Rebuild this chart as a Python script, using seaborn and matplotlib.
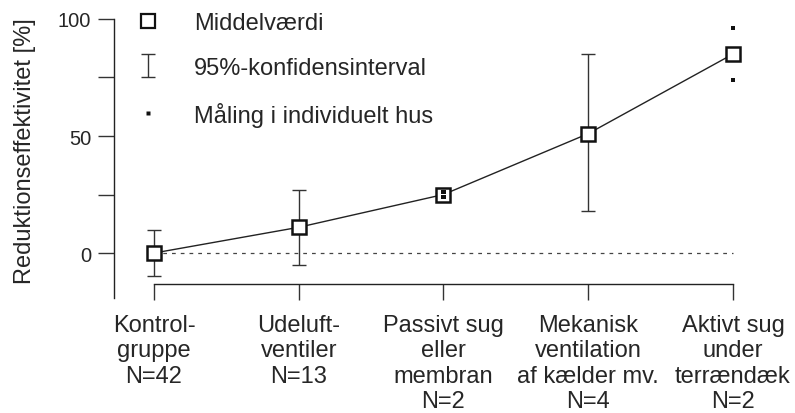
import numpy as np
import pandas as pd
import seaborn as sns
import matplotlib.pyplot as plt
from matplotlib.lines import Line2D
from matplotlib.legend_handler import HandlerErrorbar

# data
groups = ["Kontrol-\ngruppe\nN=42", "Udeluft-\nventiler\nN=13",
          "Passivt sug\neller\nmembran\nN=2", "Mekanisk\nventilation\naf kælder mv.\nN=4",
          "Aktivt sug\nunder\nterrændæk\nN=2"]
means = [0, 11, 25, 51, 85]
ci_groups = [0, 1, 3]
ci_low = [-10, -5, 18]
ci_high = [10, 27, 85]
house_groups = [2, 2, 4, 4]
house_values = [24, 26, 96, 74]
yticks_major = [0, 50, 100]
yticks_minor = [25, 75]

sns.set_style("white")
plt.rcParams['font.family'] = ['Liberation Sans', 'DejaVu Sans']
plt.rcParams['font.size'] = 17

fig = plt.figure(figsize=(7.95, 4.14), dpi=100)
ax = fig.add_axes([0.1434, 0.2778, 0.8126, 0.674])

pos = np.arange(len(groups))
df = pd.DataFrame({"pos": pos, "mean": means})
dfh = pd.DataFrame({"pos": house_groups, "value": house_values})

# reference line at 0
ax.hlines(0, 0, len(groups) - 1, colors="#444444", linestyles=(0, (3, 4)), lw=0.9, zorder=1)

ci_mid = [means[i] for i in ci_groups]
err = [np.array(ci_mid) - np.array(ci_low), np.array(ci_high) - np.array(ci_mid)]
eb = ax.errorbar(ci_groups, ci_mid, yerr=err, fmt='none', ecolor="#333333",
                 elinewidth=1.0, capsize=5, capthick=1.0, zorder=2,
                 label="95%-konfidensinterval")

sns.lineplot(data=df, x="pos", y="mean", ax=ax, color="#222222", lw=1.0,
             marker="s", markersize=9.5, markerfacecolor="white",
             markeredgecolor="#111111", markeredgewidth=1.8, zorder=3)

sns.scatterplot(data=dfh, x="pos", y="value", ax=ax, marker="s", s=9,
                color="#111111", edgecolor="none", zorder=4)

ax.set_xlim(-0.276, 4.187)
ax.set_ylim(-19.2, 100)
ax.set_xticks(pos)
ax.set_xticklabels(groups, linespacing=1.45, fontsize=17)
ax.set_yticks(yticks_major)
ax.set_yticks(yticks_minor, minor=True)
ax.tick_params(axis="y", labelsize=14.5)
ax.set_xlabel("")
ax.set_ylabel("Reduktionseffektivitet [%]", fontsize=17)
ax.yaxis.set_label_coords(-0.121, 0.53)

for s in ["top", "right"]:
    ax.spines[s].set_visible(False)
ax.spines["bottom"].set_position(("data", -13.2))
ax.spines["bottom"].set_bounds(0, len(groups) - 1)
for s in ["left", "bottom"]:
    ax.spines[s].set_color("#222222")
    ax.spines[s].set_linewidth(1.0)
ax.tick_params(axis="both", which="both", direction="out", length=11.5, width=1.0,
               color="#333333", bottom=True, left=True)
ax.tick_params(axis="y", pad=5)
ax.tick_params(axis="x", pad=10)

# legend
h_mean = Line2D([], [], marker="s", ms=9.5, mfc="white", mec="#111111", mew=1.6, ls="none")
h_house = Line2D([], [], marker="s", ms=3.5, mfc="#111111", mec="none", ls="none")
ax.legend([h_mean, eb, h_house],
          ["Middelværdi", "95%-konfidensinterval", "Måling i individuelt hus"],
          handler_map={type(eb): HandlerErrorbar(xerr_size=0.35, yerr_size=0.47)},
          loc="upper left", bbox_to_anchor=(0.1635, 0.969), bbox_transform=fig.transFigure,
          frameon=False, borderpad=0, borderaxespad=0, handlelength=1.5,
          handletextpad=1.2, labelspacing=0.97, fontsize=17)

fig.savefig("out.png", dpi=100)
